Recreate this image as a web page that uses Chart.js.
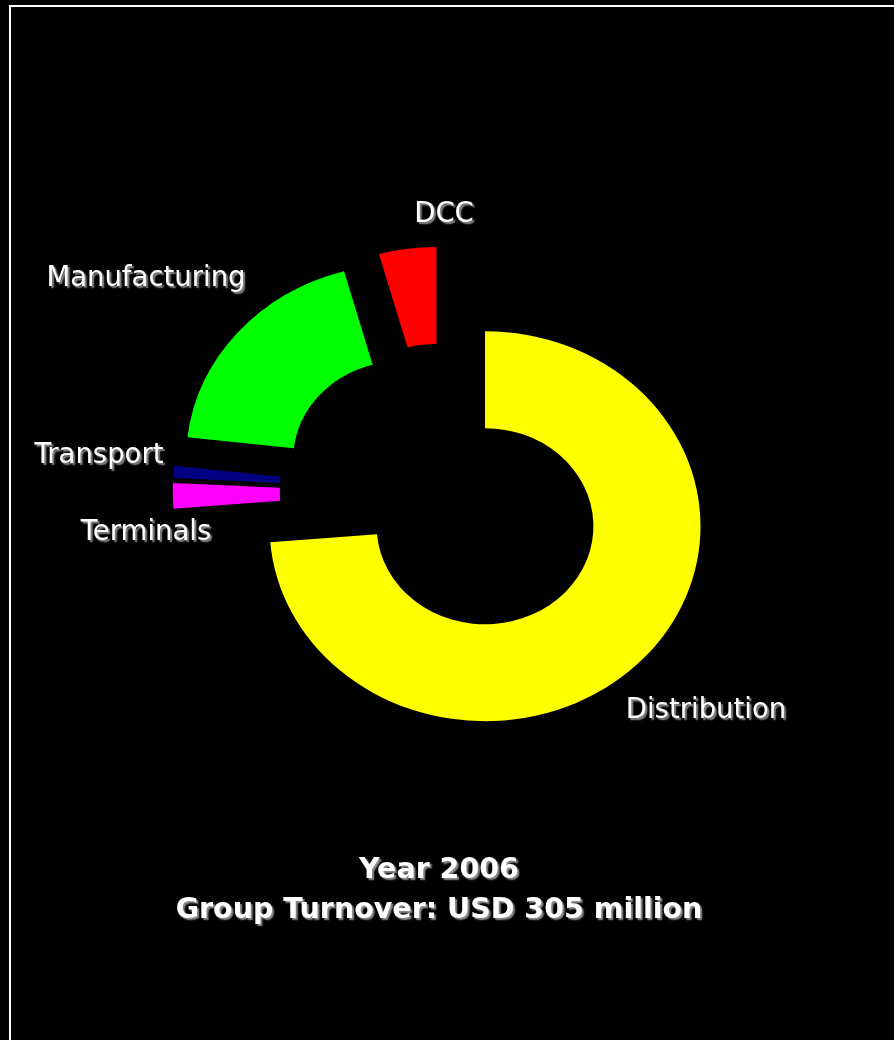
<!DOCTYPE html>
<html>
<head>
<meta charset="utf-8">
<script src="https://cdn.jsdelivr.net/npm/chart.js@4.4.1/dist/chart.umd.min.js"></script>
<style>
    html, body {
        margin: 0;
        padding: 0;
        background: #000;
        overflow: hidden;
    }
    #frame {
        position: absolute;
        left: 9px;
        top: 5px;
        width: 1000px;
        height: 1100px;
        border-left: 2px solid #fff;
        border-top: 2px solid #fff;
    }
    #wrap {
        position: absolute;
        left: 0;
        top: 0;
        width: 894px;
        height: 1040px;
    }
</style>
</head>
<body>
<div id="frame"></div>
<div id="wrap"><canvas id="turnoverChart"></canvas></div>
<script>
// Group turnover split, share of total (%), clockwise from 12 o'clock
const categories = ["Distribution", "Terminals", "Transport", "Manufacturing", "DCC"];
const shares = [73.7, 2.1, 1.0, 18.9, 4.3];
const sliceColors = ["#ffff00", "#ff00ff", "#000080", "#00ff00", "#ff0000"];
const titleLines = ["Year 2006", "Group Turnover: USD 305 million"];

// label anchors relative to the doughnut centre (text baseline, centred)
const labelOffsets = [[262, 226], [-298, 48], [-345, -29], [-298, -206], [0, -270]];

const explode = 50.5;   // every slice pulled out by the same distance
const stretchX = 1.105; // the original pie is slightly wider than tall

const fontLabel = "27.5px 'DejaVu Sans'";
const fontTitle = "bold 28.5px 'DejaVu Sans'";

function setShadow(ctx) {
    ctx.shadowColor = "rgba(150, 150, 150, 0.95)";
    ctx.shadowOffsetX = 2;
    ctx.shadowOffsetY = 2;
    ctx.shadowBlur = 1.5;
}

// draws the arcs ourselves: horizontal stretch + equal explosion for each slice
const explodedPie = {
    id: "explodedPie",
    beforeDatasetDraw(chart, args) {
        const ctx = chart.ctx;
        const arcs = args.meta.data;
        if (!arcs.length) return;
        const cx = arcs[0].x;
        ctx.save();
        ctx.translate(cx, 0);
        ctx.scale(stretchX, 1);
        ctx.translate(-cx, 0);
        arcs.forEach((arc) => {
            const mid = (arc.startAngle + arc.endAngle) / 2;
            ctx.save();
            ctx.translate(Math.cos(mid) * explode, Math.sin(mid) * explode);
            arc.draw(ctx);
            ctx.restore();
        });
        ctx.restore();
        return false;
    },
};

const textLayer = {
    id: "textLayer",
    afterDraw(chart) {
        const ctx = chart.ctx;
        const arcs = chart.getDatasetMeta(0).data;
        const cx = arcs[0].x;
        const cy = arcs[0].y;
        ctx.save();
        setShadow(ctx);
        ctx.fillStyle = "#fff";
        ctx.textAlign = "center";
        ctx.textBaseline = "alphabetic";

        ctx.font = fontLabel;
        categories.forEach((name, i) => {
            ctx.fillText(name, cx + labelOffsets[i][0], cy + labelOffsets[i][1]);
        });

        ctx.font = fontTitle;
        titleLines.forEach((line, i) => {
            ctx.fillText(line, cx - 5, cy + 386 + i * 40);
        });
        ctx.restore();
    },
};

const ctx = document.getElementById("turnoverChart").getContext("2d");

new Chart(ctx, {
    type: "doughnut",
    data: {
        labels: categories,
        datasets: [
            {
                data: shares,
                backgroundColor: sliceColors,
                borderWidth: 0,
            },
        ],
    },
    options: {
        responsive: true,
        maintainAspectRatio: false,
        animation: false,
        radius: 195,
        cutout: "50.3%",
        layout: {
            padding: { left: 0, right: 6, top: 0, bottom: 56 },
        },
        plugins: {
            legend: { display: false },
            title: { display: false },
            tooltip: { enabled: false },
        },
    },
    plugins: [explodedPie, textLayer],
});
</script>
</body>
</html>
